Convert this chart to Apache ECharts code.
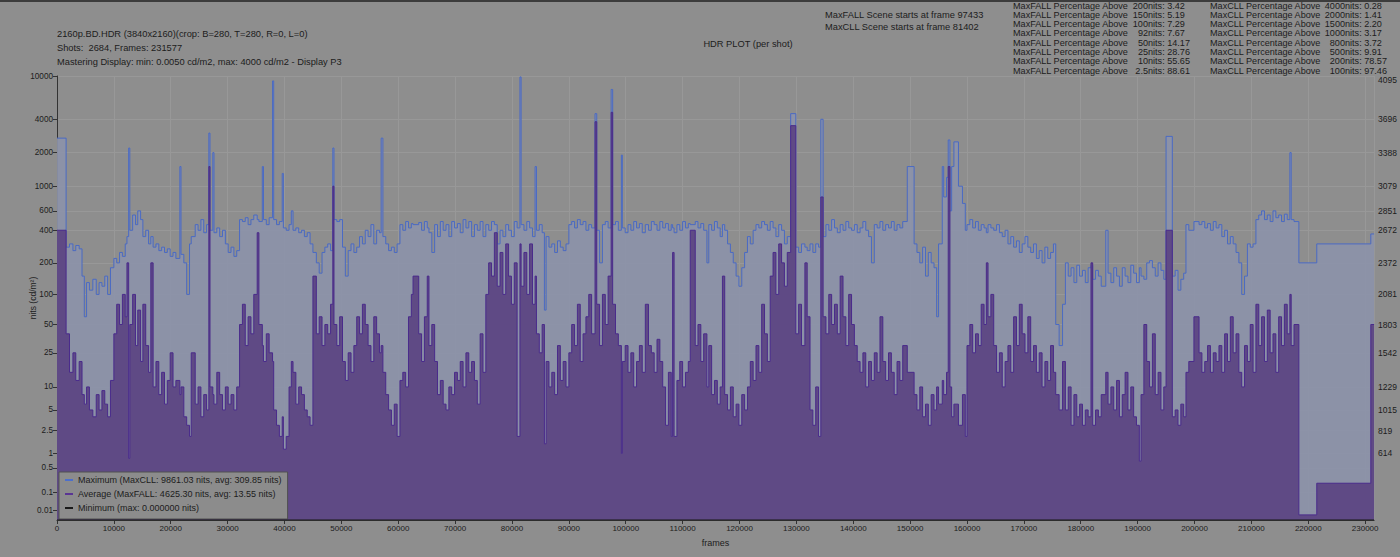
<!DOCTYPE html>
<html>
<head>
<meta charset="utf-8">
<script src="https://cdn.jsdelivr.net/npm/echarts@6.0.0/dist/echarts.min.js"></script>
<style>
  html, body { margin: 0; padding: 0; background: #8e8e8e; }
  #main { width: 1400px; height: 557px; }
</style>
</head>
<body>
<div id="main"></div>
<script type="text/javascript">
// shot start frames and per-shot brightness (nits)
var shotStart = [
  0, 1600, 2200, 2800, 3300, 3900, 4400, 4800, 5200, 5700,
  6300, 6900, 7400, 7900, 8400, 8900, 9400, 10000, 10500, 11000,
  11500, 12000, 12300, 12600, 12800, 13300, 13800, 14200, 14700, 15100,
  15600, 16100, 16500, 16900, 17400, 17900, 18400, 18900, 19400, 19900,
  20400, 20900, 21600, 21800, 22300, 22800, 23300, 23600, 24300, 24800,
  25300, 25800, 26300, 26700, 26900, 27400, 27600, 28100, 28600, 29100,
  29600, 30100, 30600, 31100, 31600, 32100, 32600, 33100, 33600, 34100,
  34600, 35200, 35500, 36100, 36300, 36800, 37300, 37900, 38100, 38600,
  39100, 39600, 39800, 40300, 40800, 41200, 41500, 42000, 42500, 43000,
  43500, 44000, 44500, 45000, 45600, 46100, 46600, 47100, 47600, 48100,
  48500, 48700, 49200, 49700, 50200, 50700, 51200, 51700, 52200, 52700,
  53200, 53700, 54200, 54700, 55200, 55700, 56200, 56700, 57000, 57300,
  57800, 58300, 58800, 59300, 59800, 60300, 60800, 61300, 61800, 62300,
  62600, 63600, 64100, 64600, 65100, 65400, 65900, 66400, 66900, 67400,
  67900, 68400, 68900, 69400, 69900, 70400, 70900, 71400, 71900, 72400,
  72900, 73400, 73900, 74400, 74900, 75400, 75900, 76400, 76900, 77400,
  77900, 78400, 78900, 79400, 79900, 80400, 80900, 81400, 81600, 82100,
  82600, 83100, 83600, 84060, 84300, 84800, 85300, 85700, 86000, 86500,
  87000, 87500, 88000, 88500, 89000, 89500, 90000, 90500, 91000, 91500,
  92000, 92500, 93000, 93500, 94000, 94600, 94900, 95400, 95900, 96400,
  96900, 97433, 97700, 98200, 98700, 99230, 99400, 99900, 100400, 100900,
  101400, 101900, 102400, 102900, 103440, 104000, 104500, 105000, 105500, 106000,
  106500, 107000, 107500, 108000, 108240, 108500, 109000, 109500, 110000, 110500,
  111000, 111340, 112220, 112700, 113200, 113700, 114270, 114600, 115100, 115600,
  116100, 116600, 117000, 117400, 117900, 118400, 118900, 119400, 119900, 120400,
  120900, 121400, 121900, 122400, 122900, 123400, 123900, 124400, 124900, 125400,
  125900, 126400, 126900, 127400, 127900, 128400, 129000, 129900, 130400, 130900,
  131500, 131900, 132400, 132900, 133400, 133900, 134300, 134700, 135200, 135700,
  136200, 136700, 137200, 137700, 138200, 138700, 139200, 139700, 140200, 140700,
  141200, 141700, 142200, 142700, 143200, 143700, 144200, 144700, 145200, 145700,
  146200, 146700, 147200, 147700, 148200, 148700, 149500, 150700, 151200, 151700,
  152200, 152700, 153200, 153700, 154200, 154660, 155000, 155650, 155900, 156400,
  156700, 157000, 157300, 157700, 158500, 159200, 159700, 160000, 160500, 161000,
  161500, 162000, 162500, 163000, 163400, 163700, 164200, 164700, 165200, 165700,
  166200, 166700, 167200, 167700, 168200, 168700, 169200, 169700, 170200, 170700,
  171200, 171700, 172200, 172700, 173200, 173700, 174200, 174700, 175200, 175600,
  176200, 176800, 177300, 177800, 178300, 178800, 179300, 179800, 180300, 180800,
  181300, 181800, 182100, 182600, 183100, 183600, 184400, 184800, 185300, 185800,
  186300, 186800, 187300, 187800, 188300, 188800, 189300, 189800, 190300, 190600,
  191100, 191600, 192100, 192600, 193100, 193600, 194100, 194600, 195000, 196100,
  196600, 197100, 197600, 198100, 198500, 199000, 199900, 200800, 201300, 201800,
  202300, 202800, 203300, 203800, 204300, 204800, 205300, 205800, 206300, 206800,
  207300, 207800, 208300, 208800, 209300, 209800, 210300, 210800, 211300, 211800,
  212300, 212800, 213300, 213800, 214300, 214800, 215300, 215800, 216300, 216770,
  217000, 217500, 218350, 221500, 231000, 231577
];

var maxNits = [
  2700, 280, 300, 260, 290, 270, 150, 60, 130, 110,
  140, 100, 130, 120, 150, 100, 180, 220, 200, 250,
  230, 300, 350, 2200, 400, 550, 450, 600, 500, 350,
  400, 300, 350, 280, 300, 260, 280, 250, 270, 230,
  250, 220, 1500, 240, 200, 100, 300, 350, 450, 400,
  500, 380, 450, 3000, 400, 2000, 380, 420, 350, 400,
  300, 250, 280, 230, 260, 500, 480, 520, 450, 500,
  550, 500, 480, 1500, 500, 450, 520, 9000, 500, 450,
  480, 1300, 420, 400, 450, 600, 400, 420, 380, 400,
  350, 380, 300, 250, 200, 160, 250, 280, 300, 260,
  2200, 500, 480, 500, 280, 150, 260, 300, 250, 280,
  350, 300, 400, 350, 450, 300, 400, 380, 2700, 350,
  300, 260, 280, 250, 300, 450, 400, 480, 420, 460,
  450, 470, 400, 480, 420, 380, 250, 450, 350, 480,
  400, 450, 350, 480, 420, 460, 380, 500, 420, 480,
  350, 450, 400, 480, 350, 450, 400, 480, 450, 300,
  400, 350, 450, 400, 350, 480, 420, 9800, 450, 400,
  480, 420, 350, 1500, 400, 450, 380, 70, 350, 280,
  300, 250, 320, 280, 260, 300, 450, 480, 420, 500,
  450, 480, 400, 450, 420, 4500, 400, 200, 450, 480,
  420, 7500, 450, 480, 400, 1900, 420, 380, 450, 400,
  480, 420, 460, 380, 450, 400, 480, 450, 400, 480,
  420, 460, 400, 450, 420, 380, 450, 400, 480, 420,
  460, 450, 480, 420, 460, 400, 200, 450, 400, 480,
  420, 350, 450, 400, 300, 250, 200, 150, 120, 180,
  250, 350, 300, 400, 450, 420, 480, 450, 400, 480,
  420, 350, 450, 400, 300, 350, 4500, 280, 250, 300,
  280, 260, 300, 250, 300, 280, 4000, 350, 450, 400,
  500, 420, 380, 450, 400, 480, 420, 400, 450, 380,
  420, 480, 400, 350, 200, 450, 420, 480, 400, 450,
  420, 480, 400, 450, 420, 480, 1500, 300, 250, 200,
  280, 150, 250, 200, 180, 60, 300, 1500, 800, 1200,
  2600, 600, 1500, 2500, 1000, 700, 400, 450, 500, 420,
  480, 400, 450, 420, 380, 450, 420, 400, 450, 380,
  350, 400, 300, 350, 280, 320, 250, 300, 350, 280,
  250, 300, 220, 260, 200, 280, 220, 250, 300, 50,
  30, 80, 200, 150, 180, 130, 190, 150, 170, 130,
  180, 190, 140, 170, 150, 120, 400, 160, 130, 180,
  150, 120, 180, 150, 130, 190, 160, 130, 180, 150,
  140, 200, 210, 180, 150, 200, 170, 140, 2800, 150,
  170, 110, 140, 160, 450, 400, 480, 450, 480, 420,
  460, 400, 480, 420, 450, 350, 400, 300, 350, 300,
  250, 200, 100, 150, 300, 280, 300, 500, 550, 600,
  500, 550, 480, 600, 520, 550, 480, 560, 500, 2000,
  500, 480, 200, 300, 370, 370
];

var avgNits = [
  400, 40, 15, 25, 12, 20, 8, 6, 10, 5,
  4, 8, 5, 9, 6, 4, 12, 40, 80, 50,
  100, 60, 200, 0.8, 50, 100, 30, 70, 20, 80,
  30, 15, 200, 10, 20, 8, 15, 6, 12, 25,
  10, 12, 8, 10, 4, 3, 2, 25, 6, 10,
  4, 8, 5, 1500, 10, 8, 6, 15, 8, 5,
  10, 6, 8, 5, 10, 50, 80, 30, 60, 40,
  100, 380, 50, 30, 20, 40, 25, 20, 5, 3,
  2, 4, 1.2, 2, 10, 20, 15, 6, 10, 8,
  5, 4, 3, 150, 40, 60, 30, 50, 40, 80,
  1000, 50, 30, 60, 20, 12, 25, 15, 30, 60,
  40, 80, 50, 30, 20, 60, 40, 25, 30, 15,
  8, 5, 3, 6, 2, 12, 15, 10, 60, 100,
  150, 40, 20, 60, 150, 30, 50, 20, 8, 12,
  6, 5, 10, 8, 15, 12, 20, 10, 25, 15,
  20, 12, 6, 40, 15, 100, 200, 150, 380, 120,
  250, 100, 300, 150, 80, 200, 2, 300, 120, 250,
  100, 300, 80, 150, 40, 25, 50, 1.5, 20, 10,
  15, 8, 30, 12, 20, 10, 25, 50, 30, 80,
  20, 40, 60, 100, 40, 3800, 80, 30, 100, 50,
  150, 4625, 80, 40, 30, 1, 20, 30, 15, 25,
  10, 20, 30, 15, 80, 30, 25, 15, 35, 20,
  10, 3, 15, 2, 250, 2, 12, 20, 10, 15,
  20, 400, 30, 50, 20, 40, 10, 30, 8, 12,
  6, 10, 150, 8, 5, 10, 4, 6, 3, 8,
  5, 10, 20, 12, 30, 15, 80, 40, 20, 150,
  250, 100, 300, 200, 120, 250, 3500, 40, 80, 30,
  200, 60, 5, 3, 10, 2, 800, 60, 40, 100,
  50, 80, 40, 150, 60, 30, 100, 50, 30, 20,
  15, 25, 10, 20, 12, 25, 15, 60, 20, 12,
  25, 15, 8, 20, 12, 30, 15, 8, 5, 10,
  4, 6, 3, 8, 5, 10, 6, 12, 8, 15,
  1500, 10, 4, 6, 3, 8, 2, 30, 50, 25,
  40, 30, 80, 50, 200, 60, 100, 30, 15, 25,
  10, 20, 30, 15, 60, 30, 80, 40, 25, 60,
  20, 30, 15, 25, 10, 20, 12, 30, 15, 8,
  5, 20, 5, 10, 3, 8, 4, 6, 3, 5,
  4, 200, 3, 5, 4, 8, 15, 6, 10, 5,
  12, 4, 8, 15, 5, 10, 4, 3, 0.7, 8,
  50, 20, 10, 40, 8, 15, 5, 10, 400, 4,
  5, 3, 6, 4, 15, 20, 60, 25, 15, 20,
  30, 15, 25, 20, 30, 15, 40, 20, 60, 25,
  40, 15, 10, 30, 20, 50, 15, 80, 30, 60,
  20, 70, 25, 40, 15, 60, 30, 80, 40, 100,
  30, 50, 0.003, 0.2, 50, 50
];

// minimum per shot is 0 for the whole title
var minFrames = [0, 231577];
var minNits = [0, 0];

// axis ticks
var leftTickNits = [0.01, 0.1, 0.5, 1, 2.5, 5, 10, 25, 50, 100, 200, 400, 600, 1000, 2000, 4000, 10000];
var rightTickCodes = [614, 819, 1015, 1229, 1542, 1803, 2081, 2372, 2672, 2851, 3079, 3388, 3696, 4095];

// header texts
var headerLeft = [
  '2160p.BD.HDR (3840x2160)(crop: B=280, T=280, R=0, L=0)',
  'Shots:  2684, Frames: 231577',
  'Mastering Display: min: 0.0050 cd/m2, max: 4000 cd/m2 - Display P3'
];
var sceneLines = ['MaxFALL Scene starts at frame 97433', 'MaxCLL Scene starts at frame 81402'];
var fallThresholds = ['200', '150', '100', '92', '50', '25', '10', '2.5'];
var fallPct = ['3.42', '5.19', '7.29', '7.67', '14.17', '28.76', '55.65', '88.61'];
var cllThresholds = ['4000', '2000', '1500', '1000', '800', '500', '200', '100'];
var cllPct = ['0.28', '1.41', '2.20', '3.17', '3.72', '9.91', '78.57', '97.46'];

var legendNames = [
  'Maximum (MaxCLL: 9861.03 nits, avg: 309.85 nits)',
  'Average (MaxFALL: 4625.30 nits, avg: 13.55 nits)',
  'Minimum (max: 0.000000 nits)'
];

// SMPTE ST 2084 (PQ) -> 12 bit code value
var m1 = 2610 / 16384, m2 = 2523 / 4096 * 128;
var c1 = 3424 / 4096, c2 = 2413 / 4096 * 32, c3 = 2392 / 4096 * 32;
function pq(nits) {
    var y = Math.pow(Math.max(nits, 0) / 10000, m1);
    return Math.min(4095, 4095 * Math.pow((c1 + c2 * y) / (1 + c3 * y), m2));
}

var leftTickCodes = leftTickNits.map(pq);

var maxData = shotStart.map(function (f, i) { return [f, pq(maxNits[i])]; });
var avgData = shotStart.map(function (f, i) { return [f, pq(avgNits[i])]; });
var minData = minFrames.map(function (f, i) { return [f, pq(minNits[i])]; });

var txtColor = '#1c1c1c';
var font = '"Liberation Sans", Arial, sans-serif';

var myChart = echarts.init(document.getElementById('main'), null, {renderer: 'svg'});

// header texts as graphic elements
var graphics = [
    {type: 'rect', shape: {x: 0, y: 0, width: 1400, height: 2}, style: {fill: '#3c3c3c'}, silent: true}
];
function addText(t, x, y, align, size) {
    graphics.push({type: 'text', x: x, y: y, silent: true,
        style: {text: t, font: (size || 9.3) + 'px ' + font, fill: txtColor, align: align || 'left', verticalAlign: 'middle'}});
}
headerLeft.forEach(function (t, i) { addText(t, 57, 34.3 + i * 14); });
addText('HDR PLOT (per shot)', 748, 44, 'center');
sceneLines.forEach(function (t, i) { addText(t, 825, 14.5 + i * 12.5); });
function statColumn(x0, xNits, label, thresholds, pcts) {
    thresholds.forEach(function (t, i) {
        var y = 5.5 + i * 9.3;
        addText(label, x0, y, 'left', 9.1);
        addText(t, xNits, y, 'right', 9.1);
        addText('nits: ' + pcts[i], xNits, y, 'left', 9.1);
    });
}
statColumn(1013, 1148, 'MaxFALL Percentage Above', fallThresholds, fallPct);
statColumn(1210, 1345, 'MaxCLL Percentage Above', cllThresholds, cllPct);

var option = {
    backgroundColor: '#8e8e8e',
    animation: false,
    textStyle: {fontFamily: font, color: txtColor},
    grid: {left: 57, right: 24, top: 76, bottom: 37},
    legend: {
        orient: 'vertical',
        left: 59,
        top: 472,
        padding: [1, 6, 4, 6],
        itemGap: 0,
        itemWidth: 8,
        itemHeight: 2,
        icon: 'rect',
        backgroundColor: '#8c8c8c',
        borderColor: '#505050',
        borderWidth: 1,
        textStyle: {fontFamily: font, fontSize: 9, color: txtColor, lineHeight: 14},
        data: [
            {name: legendNames[0], itemStyle: {color: '#4d6fcb'}},
            {name: legendNames[1], itemStyle: {color: '#5a3594'}},
            {name: legendNames[2], itemStyle: {color: '#1a1a1a'}}
        ]
    },
    xAxis: {
        type: 'value',
        min: 0,
        max: 231577,
        interval: 10000,
        name: 'frames',
        nameLocation: 'middle',
        nameGap: 18,
        nameMoveOverlap: false,
        nameTextStyle: {fontFamily: font, fontSize: 9, color: txtColor},
        axisLine: {lineStyle: {color: '#333', width: 1}},
        axisTick: {length: 4, lineStyle: {color: '#333'}},
        axisLabel: {
            fontFamily: font, fontSize: 8, color: txtColor, margin: 4, showMaxLabel: false,
            formatter: function (v) { return String(v); }
        },
        splitLine: {show: true, lineStyle: {color: '#989898', width: 1}}
    },
    yAxis: [
        {
            type: 'value',
            position: 'left',
            min: 0,
            max: 4095,
            name: 'nits (cd/m²)',
            nameLocation: 'middle',
            nameRotate: 90,
            nameGap: 20,
            nameMoveOverlap: false,
            nameTextStyle: {fontFamily: font, fontSize: 8.5, color: txtColor},
            axisLine: {show: true, lineStyle: {color: '#333', width: 1}},
            axisTick: {show: true, length: 4, customValues: leftTickCodes, lineStyle: {color: '#333'}},
            axisLabel: {
                fontFamily: font, fontSize: 8.2, color: txtColor, margin: 4,
                customValues: leftTickCodes,
                formatter: function (v) {
                    for (var i = 0; i < leftTickCodes.length; i++) {
                        if (Math.abs(leftTickCodes[i] - v) < 0.5) return String(leftTickNits[i]);
                    }
                    return '';
                }
            },
            splitLine: {show: true, lineStyle: {color: '#989898', width: 1}}
        },
        {
            type: 'value',
            position: 'right',
            min: 0,
            max: 4095,
            axisLine: {show: false},
            axisTick: {show: false, customValues: rightTickCodes},
            axisLabel: {
                fontFamily: font, fontSize: 8.5, color: txtColor, margin: 4,
                customValues: rightTickCodes,
                // top label sits just inside the plot, below the stats block
                formatter: function (v) { return v === 4095 ? '{top|' + v + '}' : String(v); },
                rich: {top: {fontSize: 8.5, padding: [8, 0, 0, 0]}}
            },
            splitLine: {show: false}
        }
    ],
    series: [
        {
            name: legendNames[0],
            type: 'line',
            step: 'end',
            data: maxData,
            showSymbol: false,
            symbol: 'none',
            z: 2,
            itemStyle: {color: '#4d6fcb'},
            lineStyle: {color: '#4a6ac4', width: 1},
            areaStyle: {color: '#8c93a9', opacity: 0.92}
        },
        {
            name: legendNames[1],
            type: 'line',
            step: 'end',
            data: avgData,
            showSymbol: false,
            symbol: 'none',
            z: 3,
            itemStyle: {color: '#5a3594'},
            lineStyle: {color: '#4a2b8b', width: 1},
            areaStyle: {color: '#5f4a85', opacity: 1}
        },
        {
            name: legendNames[2],
            type: 'line',
            data: minData,
            showSymbol: false,
            symbol: 'none',
            z: 4,
            itemStyle: {color: '#1a1a1a'},
            lineStyle: {color: '#1a1a1a', width: 1}
        }
    ],
    graphic: graphics
};

myChart.setOption(option);
</script>
</body>
</html>
